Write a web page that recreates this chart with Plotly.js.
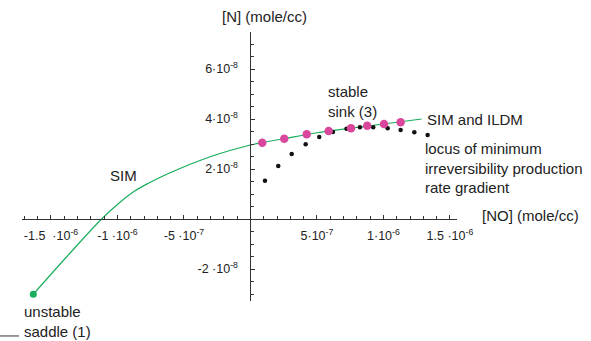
<!DOCTYPE html>
<html>
<head>
<meta charset="utf-8">
<script src="https://cdn.plot.ly/plotly-3.0.1.min.js"></script>
<style>html,body{margin:0;padding:0;background:#fff}#chart{width:591px;height:341px}</style>
</head>
<body>
<div id="chart"></div>
<script>
// SIM curve (slow invariant manifold)
const simX = [-1.633e-6, -1.38e-6, -1.119e-6, -0.981e-6, -0.876e-6, -0.768e-6, -0.65e-6, -0.53e-6, -0.38e-6, -0.229e-6, 0, 0.25e-6, 0.5e-6, 0.75e-6, 1.0e-6, 1.287e-6];
const simY = [-3.01e-8, -1.50e-8, 0, 0.67e-8, 1.10e-8, 1.43e-8, 1.74e-8, 2.02e-8, 2.34e-8, 2.62e-8, 2.96e-8, 3.21e-8, 3.45e-8, 3.63e-8, 3.80e-8, 4.0e-8];
// unstable saddle point
const saddleX = [-1.633e-6];
const saddleY = [-3.01e-8];
// ILDM points (magenta)
const ildmX = [0.089e-6, 0.254e-6, 0.423e-6, 0.588e-6, 0.756e-6, 0.878e-6, 1.004e-6, 1.129e-6];
const ildmY = [3.05e-8, 3.21e-8, 3.39e-8, 3.52e-8, 3.63e-8, 3.73e-8, 3.80e-8, 3.87e-8];
// locus of minimum irreversibility production rate gradient (black)
const locX = [0.109e-6, 0.209e-6, 0.310e-6, 0.415e-6, 0.517e-6, 0.620e-6, 0.722e-6, 0.823e-6, 0.923e-6, 1.032e-6, 1.129e-6, 1.232e-6, 1.332e-6];
const locY = [1.53e-8, 2.12e-8, 2.60e-8, 2.99e-8, 3.28e-8, 3.48e-8, 3.61e-8, 3.67e-8, 3.67e-8, 3.63e-8, 3.56e-8, 3.47e-8, 3.36e-8];
// ticks
const xTickVals = [-1.5e-6, -1e-6, -5e-7, 5e-7, 1e-6, 1.5e-6];
const xTickText = ['-1.5 \u00a0\u00b710<sup>-6</sup>', '-1 \u00b710<sup>-6</sup>', '-5 \u00b710<sup>-7</sup>', '5\u00b710<sup>-7</sup>', '1\u00b710<sup>-6</sup>', '1.5 \u00b710<sup>-6</sup>'];
const yTickVals = [-2e-8, 2e-8, 4e-8, 6e-8];
const yTickText = ['-2 \u00b710<sup>-8</sup>', '2\u00b710<sup>-8</sup>', '4\u00b710<sup>-8</sup>', '6\u00b710<sup>-8</sup>'];

const xRange = [-1.718e-6, 1.553e-6];
const yRange = [-3.28e-8, 7.48e-8];
const txt = '#222';
const ff = 'Liberation Sans, Arial, sans-serif';
const font = {family: ff, size: 15, color: txt};
const tfont = {family: ff, size: 12.5, color: txt};

const traces = [
  {x: simX, y: simY, mode: 'lines', line: {color: '#19ad5c', width: 1.2, shape: 'spline', smoothing: 1}, hoverinfo: 'none', cliponaxis: false},
  {x: saddleX, y: saddleY, mode: 'markers', marker: {color: '#19ad5c', size: 7}, cliponaxis: false},
  {x: locX, y: locY, mode: 'markers', marker: {color: '#111', size: 4.5}, cliponaxis: false},
  {x: ildmX, y: ildmY, mode: 'markers', marker: {color: '#d9479c', size: 8.5}, cliponaxis: false}
];

const layout = {
  width: 591, height: 341,
  margin: {l: 22, r: 134, t: 32, b: 40},
  paper_bgcolor: '#fff', plot_bgcolor: '#fff',
  showlegend: false,
  font: font,
  xaxis: {
    range: xRange, anchor: 'free', position: (0 - yRange[0]) / (yRange[1] - yRange[0]),
    showgrid: false, zeroline: false, showline: true, linecolor: '#333', linewidth: 1,
    tickmode: 'array', tickvals: xTickVals, ticktext: xTickText,
    ticks: 'inside', ticklen: 4, tickcolor: '#333', ticklabelstandoff: 5,
    minor: {ticks: 'inside', tickmode: 'linear', tick0: 0, dtick: 1e-7, ticklen: 3, tickcolor: '#333'},
    tickfont: tfont
  },
  yaxis: {
    range: yRange, anchor: 'free', position: (0 - xRange[0]) / (xRange[1] - xRange[0]),
    showgrid: false, zeroline: false, showline: true, linecolor: '#333', linewidth: 1,
    tickmode: 'array', tickvals: yTickVals, ticktext: yTickText,
    ticks: 'inside', ticklen: 4, tickcolor: '#333', ticklabelstandoff: 10,
    minor: {ticks: 'inside', tickmode: 'linear', tick0: 0, dtick: 5e-9, ticklen: 3, tickcolor: '#333'},
    tickfont: tfont
  },
  annotations: [
    {xref: 'paper', yref: 'paper', x: 0.455, y: 1.056, text: '[N] (mole/cc)', xanchor: 'left', yanchor: 'middle', showarrow: false, font: font},
    {xref: 'paper', yref: 'paper', x: 1.053, y: 0.318, text: '[NO] (mole/cc)', xanchor: 'left', yanchor: 'middle', showarrow: false, font: font},
    {x: -1.07e-6, y: 1.76e-8, text: 'SIM', xanchor: 'left', yanchor: 'middle', showarrow: false, font: font},
    {x: 0.565e-6, y: 4.69e-8, text: 'stable<br>sink (3)', xanchor: 'left', yanchor: 'middle', align: 'left', showarrow: false, font: font},
    {x: 1.312e-6, y: 4.0e-8, text: 'SIM and ILDM', xanchor: 'left', yanchor: 'middle', showarrow: false, font: font},
    {x: 1.30e-6, y: 2.03e-8, text: 'locus of minimum<br>irreversibility production<br>rate gradient', xanchor: 'left', yanchor: 'middle', align: 'left', showarrow: false, font: font},
    {xref: 'paper', yref: 'paper', x: -0.001, y: -0.077, text: 'unstable<br>saddle (1)', xanchor: 'left', yanchor: 'middle', align: 'left', showarrow: false, font: font}
  ],
  shapes: [
    {type: 'line', xref: 'paper', yref: 'paper', x0: -0.0506, x1: -0.0069, y0: -0.130, y1: -0.130, line: {color: '#333', width: 1}}
  ]
};

Plotly.newPlot('chart', traces, layout, {displayModeBar: false, staticPlot: true});
</script>
</body>
</html>
